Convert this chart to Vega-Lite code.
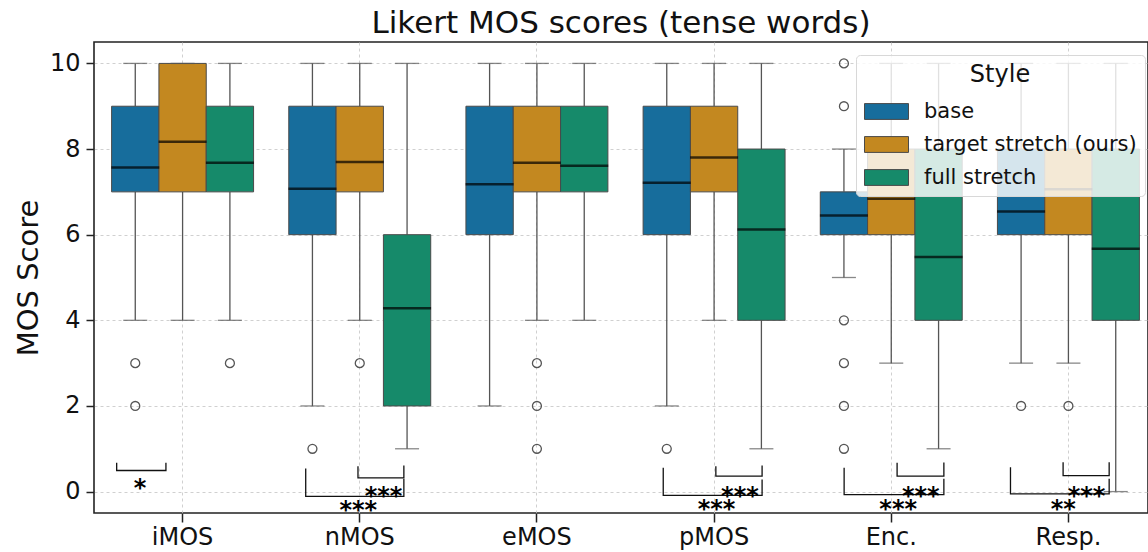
{
  "$schema": "https://vega.github.io/schema/vega-lite/v6.json",
  "autosize": {"type": "none"},
  "padding": {"left": 94, "top": 42, "right": 0, "bottom": 39},
  "width": 1054,
  "height": 471,
  "background": "white",
  "title": {"text": "Likert MOS scores (tense words)", "fontSize": 31, "fontWeight": "normal", "color": "#111", "anchor": "middle", "offset": 2},
  "config": {
    "font": "DejaVu Sans",
    "view": {"stroke": "#222", "strokeWidth": 1.6},
    "axis": {
      "labelColor": "#111", "titleColor": "#111", "tickColor": "#222", "tickWidth": 1.5,
      "domain": false, "grid": true, "gridDash": [3, 3], "gridColor": "#c4c4c4", "gridWidth": 0.8
    }
  },
  "datasets": {
    "boxes": [
      {"metric": "iMOS", "style": "base", "q1": 7, "q3": 9, "mean": 7.57, "lo": 4, "hi": 10},
      {"metric": "iMOS", "style": "target stretch (ours)", "q1": 7, "q3": 10, "mean": 8.17, "lo": 4, "hi": 10},
      {"metric": "iMOS", "style": "full stretch", "q1": 7, "q3": 9, "mean": 7.68, "lo": 4, "hi": 10},
      {"metric": "nMOS", "style": "base", "q1": 6, "q3": 9, "mean": 7.07, "lo": 2, "hi": 10},
      {"metric": "nMOS", "style": "target stretch (ours)", "q1": 7, "q3": 9, "mean": 7.70, "lo": 4, "hi": 10},
      {"metric": "nMOS", "style": "full stretch", "q1": 2, "q3": 6, "mean": 4.28, "lo": 1, "hi": 10},
      {"metric": "eMOS", "style": "base", "q1": 6, "q3": 9, "mean": 7.18, "lo": 2, "hi": 10},
      {"metric": "eMOS", "style": "target stretch (ours)", "q1": 7, "q3": 9, "mean": 7.68, "lo": 4, "hi": 10},
      {"metric": "eMOS", "style": "full stretch", "q1": 7, "q3": 9, "mean": 7.61, "lo": 4, "hi": 10},
      {"metric": "pMOS", "style": "base", "q1": 6, "q3": 9, "mean": 7.21, "lo": 2, "hi": 10},
      {"metric": "pMOS", "style": "target stretch (ours)", "q1": 7, "q3": 9, "mean": 7.80, "lo": 4, "hi": 10},
      {"metric": "pMOS", "style": "full stretch", "q1": 4, "q3": 8, "mean": 6.12, "lo": 1, "hi": 10},
      {"metric": "Enc.", "style": "base", "q1": 6, "q3": 7, "mean": 6.45, "lo": 5, "hi": 8},
      {"metric": "Enc.", "style": "target stretch (ours)", "q1": 6, "q3": 8, "mean": 6.84, "lo": 3, "hi": 10},
      {"metric": "Enc.", "style": "full stretch", "q1": 4, "q3": 8, "mean": 5.48, "lo": 1, "hi": 10},
      {"metric": "Resp.", "style": "base", "q1": 6, "q3": 8, "mean": 6.54, "lo": 3, "hi": 10},
      {"metric": "Resp.", "style": "target stretch (ours)", "q1": 6, "q3": 8, "mean": 7.06, "lo": 3, "hi": 10},
      {"metric": "Resp.", "style": "full stretch", "q1": 4, "q3": 8, "mean": 5.67, "lo": 0, "hi": 10}
    ],
    "outliers": [
      {"metric": "iMOS", "style": "base", "value": 3},
      {"metric": "iMOS", "style": "base", "value": 2},
      {"metric": "iMOS", "style": "full stretch", "value": 3},
      {"metric": "nMOS", "style": "base", "value": 1},
      {"metric": "nMOS", "style": "target stretch (ours)", "value": 3},
      {"metric": "eMOS", "style": "target stretch (ours)", "value": 3},
      {"metric": "eMOS", "style": "target stretch (ours)", "value": 2},
      {"metric": "eMOS", "style": "target stretch (ours)", "value": 1},
      {"metric": "pMOS", "style": "base", "value": 1},
      {"metric": "Enc.", "style": "base", "value": 10},
      {"metric": "Enc.", "style": "base", "value": 9},
      {"metric": "Enc.", "style": "base", "value": 4},
      {"metric": "Enc.", "style": "base", "value": 3},
      {"metric": "Enc.", "style": "base", "value": 2},
      {"metric": "Enc.", "style": "base", "value": 1},
      {"metric": "Resp.", "style": "base", "value": 2},
      {"metric": "Resp.", "style": "target stretch (ours)", "value": 2}
    ],
    "brackets": [
      {"id": "i", "ord": 1, "u": 0.128, "v": 0.673}, {"id": "i", "ord": 2, "u": 0.128, "v": 0.492}, {"id": "i", "ord": 3, "u": 0.406, "v": 0.492}, {"id": "i", "ord": 4, "u": 0.406, "v": 0.673},
      {"id": "n1", "ord": 1, "u": 1.195, "v": 0.539}, {"id": "n1", "ord": 2, "u": 1.195, "v": -0.11}, {"id": "n1", "ord": 3, "u": 1.749, "v": -0.11}, {"id": "n1", "ord": 4, "u": 1.749, "v": 0.3},
      {"id": "n2", "ord": 1, "u": 1.49, "v": 0.593}, {"id": "n2", "ord": 2, "u": 1.49, "v": 0.321}, {"id": "n2", "ord": 3, "u": 1.749, "v": 0.321}, {"id": "n2", "ord": 4, "u": 1.749, "v": 0.61},
      {"id": "p1", "ord": 1, "u": 3.213, "v": 0.555}, {"id": "p1", "ord": 2, "u": 3.213, "v": -0.087}, {"id": "p1", "ord": 3, "u": 3.771, "v": -0.087}, {"id": "p1", "ord": 4, "u": 3.771, "v": 0.28},
      {"id": "p2", "ord": 1, "u": 3.51, "v": 0.593}, {"id": "p2", "ord": 2, "u": 3.51, "v": 0.359}, {"id": "p2", "ord": 3, "u": 3.771, "v": 0.359}, {"id": "p2", "ord": 4, "u": 3.771, "v": 0.61},
      {"id": "e1", "ord": 1, "u": 4.234, "v": 0.555}, {"id": "e1", "ord": 2, "u": 4.234, "v": -0.07}, {"id": "e1", "ord": 3, "u": 4.797, "v": -0.07}, {"id": "e1", "ord": 4, "u": 4.797, "v": 0.3},
      {"id": "e2", "ord": 1, "u": 4.533, "v": 0.673}, {"id": "e2", "ord": 2, "u": 4.533, "v": 0.359}, {"id": "e2", "ord": 3, "u": 4.797, "v": 0.359}, {"id": "e2", "ord": 4, "u": 4.797, "v": 0.68},
      {"id": "r1", "ord": 1, "u": 5.173, "v": 0.57}, {"id": "r1", "ord": 2, "u": 5.173, "v": -0.054}, {"id": "r1", "ord": 3, "u": 5.73, "v": -0.054}, {"id": "r1", "ord": 4, "u": 5.73, "v": 0.3},
      {"id": "r2", "ord": 1, "u": 5.47, "v": 0.687}, {"id": "r2", "ord": 2, "u": 5.47, "v": 0.375}, {"id": "r2", "ord": 3, "u": 5.73, "v": 0.375}, {"id": "r2", "ord": 4, "u": 5.73, "v": 0.687}
    ],
    "stars": [
      {"u": 0.26, "v": -0.095, "label": "*"},
      {"u": 1.492, "v": -0.62, "label": "***"},
      {"u": 1.634, "v": -0.29, "label": "***"},
      {"u": 3.514, "v": -0.6, "label": "***"},
      {"u": 3.646, "v": -0.29, "label": "***"},
      {"u": 4.539, "v": -0.6, "label": "***"},
      {"u": 4.667, "v": -0.29, "label": "***"},
      {"u": 5.471, "v": -0.6, "label": "**"},
      {"u": 5.602, "v": -0.29, "label": "***"}
    ]
  },
  "layer": [
    {
      "data": {"name": "boxes"},
      "encoding": {
        "x": {
          "field": "metric", "type": "nominal", "sort": ["iMOS", "nMOS", "eMOS", "pMOS", "Enc.", "Resp."],
          "scale": {"range": [0, 1063], "paddingInner": 0, "paddingOuter": 0},
          "axis": {"title": null, "labelAngle": 0, "labelFontSize": 24, "tickSize": 9, "labelPadding": 3}
        },
        "xOffset": {
          "field": "style", "type": "nominal", "sort": ["base", "target stretch (ours)", "full stretch"],
          "scale": {"paddingInner": 0, "paddingOuter": 0.372}
        }
      },
      "layer": [
        {
          "mark": {"type": "rule", "color": "#555", "strokeWidth": 1.3},
          "encoding": {
            "y": {"field": "lo", "type": "quantitative", "scale": {"domain": [-0.5, 10.5], "nice": false, "zero": false},
              "axis": {"title": "MOS Score", "titleFontSize": 29, "titleFontWeight": "normal", "titlePadding": 6, "labelFontSize": 24, "tickSize": 8, "labelPadding": 6, "values": [0, 2, 4, 6, 8, 10]}},
            "y2": {"field": "q1"}
          }
        },
        {
          "mark": {"type": "rule", "color": "#555", "strokeWidth": 1.3},
          "encoding": {"y": {"field": "q3", "type": "quantitative"}, "y2": {"field": "hi"}}
        },
        {
          "mark": {"type": "bar", "stroke": "#4a4a4a", "strokeWidth": 1, "opacity": 1},
          "encoding": {
            "y": {"field": "q1", "type": "quantitative"},
            "y2": {"field": "q3"},
            "color": {
              "field": "style", "type": "nominal", "sort": ["base", "target stretch (ours)", "full stretch"],
              "scale": {"domain": ["base", "target stretch (ours)", "full stretch"], "range": ["#176d9c", "#c38820", "#168a6a"]},
              "legend": {
                "orient": "none", "legendX": 762, "legendY": 13,
                "title": "Style", "titleFontSize": 24, "titleFontWeight": "normal", "titleAnchor": "middle", "titleColor": "#111", "titlePadding": 2,
                "labelFontSize": 21, "labelColor": "#111", "labelOffset": 15, "labelLimit": 400,
                "symbolType": "M-1,-0.36H1V0.36H-1Z", "symbolSize": 1936, "symbolStrokeColor": "#4a4a4a", "symbolStrokeWidth": 1, "symbolOpacity": 1,
                "rowPadding": -4.8, "padding": 8,
                "fillColor": "rgba(255,255,255,0.82)", "strokeColor": "#d8d8d8", "cornerRadius": 4
              }
            }
          }
        },
        {
          "mark": {"type": "tick", "color": "#555", "size": 24, "thickness": 1.3},
          "encoding": {"y": {"field": "lo", "type": "quantitative"}}
        },
        {
          "mark": {"type": "tick", "color": "#555", "size": 24, "thickness": 1.3},
          "encoding": {"y": {"field": "hi", "type": "quantitative"}}
        },
        {
          "mark": {"type": "tick", "color": "#000", "size": 48, "thickness": 2.5},
          "encoding": {"y": {"field": "mean", "type": "quantitative"}}
        },
        {
          "data": {"name": "outliers"},
          "mark": {"type": "point", "shape": "circle", "filled": false, "stroke": "#555", "strokeWidth": 1.3, "size": 80, "opacity": 1},
          "encoding": {"y": {"field": "value", "type": "quantitative"}}
        }
      ]
    },
    {
      "encoding": {
        "x": {"field": "u", "type": "quantitative", "scale": {"domain": [0, 6], "range": [0, 1063], "nice": false, "zero": false}, "axis": null}
      },
      "layer": [
        {
          "data": {"name": "brackets"},
          "mark": {"type": "line", "color": "#111", "strokeWidth": 1.3},
          "encoding": {
            "y": {"field": "v", "type": "quantitative"},
            "detail": {"field": "id"},
            "order": {"field": "ord"}
          }
        },
        {
          "data": {"name": "stars"},
          "mark": {"type": "text", "fontSize": 24, "fontWeight": "bold", "baseline": "alphabetic", "align": "center", "color": "#000"},
          "encoding": {
            "y": {"field": "v", "type": "quantitative"},
            "text": {"field": "label"}
          }
        }
      ]
    }
  ],
  "resolve": {"scale": {"x": "independent"}}
}
